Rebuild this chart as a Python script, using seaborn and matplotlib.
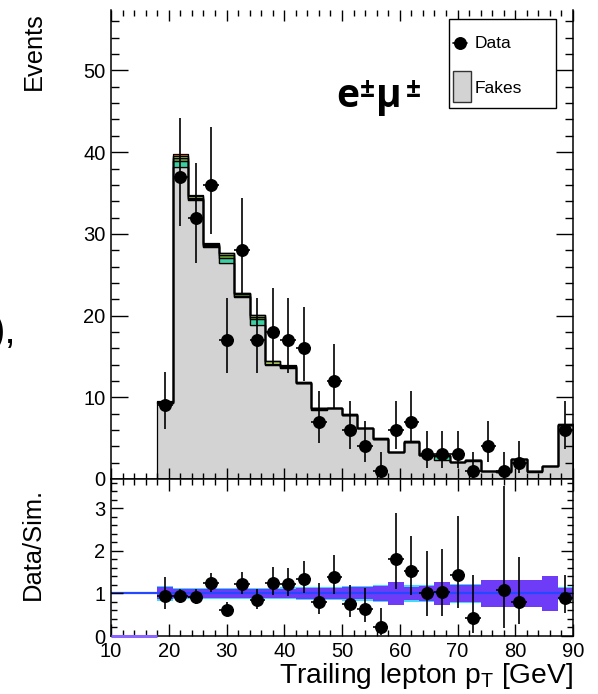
import numpy as np
import pandas as pd
import matplotlib
matplotlib.use("Agg")
import matplotlib.pyplot as plt
import seaborn as sns
from matplotlib.patches import Rectangle
from matplotlib.lines import Line2D
from matplotlib.ticker import MultipleLocator

# ---- binning (GeV) ----
bin_edges = np.linspace(18.0, 90.0, 28)

# ---- observed events per bin ----
data_events = [9, 37, 32, 36, 17, 28, 17, 18, 17, 16, 7, 12, 6, 4, 1,
               6, 7, 3, 3, 3, 1, 4, 1, 2, 0, 0, 6]

# ---- expected yields per bin, per process ----
fakes = [9.3, 38.2, 34.1, 28.4, 26.4, 22.3, 18.9, 14.0, 13.6, 11.7, 8.45, 8.65, 7.8, 6.2,
         4.9, 3.25, 4.55, 2.9, 2.3, 2.05, 2.25, 0.95, 0.9, 2.45, 0.9, 1.55, 6.6]
wz = [0.05, 0.7, 0.15, 0.15, 0.7, 0.15, 0.68, 0.05, 0.1, 0.05, 0.1, 0.02, 0.05, 0.03,
      0.03, 0.02, 0.02, 0.02, 0.55, 0.02, 0.02, 0.02, 0.01, 0.02, 0.02, 0.02, 0.04]
zz = [0.05, 0.35, 0.2, 0.15, 0.3, 0.15, 0.25, 0.05, 0.1, 0.05, 0.08, 0.01, 0.04, 0.03,
      0.02, 0.01, 0.01, 0.01, 0.02, 0.01, 0.01, 0.01, 0.01, 0.01, 0.01, 0.01, 0.02]
wgamma = [0.05, 0.25, 0.2, 0.1, 0.25, 0.15, 0.2, 0.3, 0.05, 0.05, 0.06, 0.01, 0.03, 0.02,
          0.02, 0.01, 0.01, 0.01, 0.02, 0.01, 0.01, 0.01, 0.005, 0.01, 0.01, 0.01, 0.02]
ttv = [0.05, 0.25, 0.05, 0.05, 0.05, 0.05, 0.05, 0.05, 0.05, 0.05, 0.03, 0.01, 0.03, 0.02,
       0.01, 0.01, 0.01, 0.01, 0.01, 0.01, 0.01, 0.01, 0.005, 0.01, 0.01, 0.01, 0.02]

# ---- relative uncertainty of the expectation (ratio-panel bands) ----
unc_total = [0.14, 0.10, 0.10, 0.10, 0.10, 0.10, 0.10, 0.10, 0.11, 0.12, 0.12, 0.12, 0.14, 0.14,
             0.17, 0.26, 0.16, 0.17, 0.28, 0.19, 0.19, 0.31, 0.31, 0.31, 0.31, 0.42, 0.13]
unc_stat = [0.17, 0.125, 0.125, 0.125, 0.125, 0.125, 0.125, 0.125, 0.14, 0.15, 0.15, 0.15, 0.17, 0.17,
            0.19, 0.26, 0.19, 0.20, 0.28, 0.22, 0.22, 0.31, 0.31, 0.31, 0.31, 0.42, 0.16]

process_names = ["Fakes", "WZ", "ZZ", "Wgamma", "ttV"]
process_colors = {"Fakes": "#d3d3d3", "WZ": "#3ccfa2", "ZZ": "#6b9e3a",
                  "Wgamma": "#b8d96a", "ttV": "#e8602c"}
stack_top_first = ["ttV", "Wgamma", "ZZ", "WZ", "Fakes"]

sns.set_theme(style="ticks")
plt.rcParams["font.family"] = ["Liberation Sans", "DejaVu Sans"]
plt.rcParams["mathtext.fontset"] = "custom"
plt.rcParams["mathtext.rm"] = "Liberation Sans"
plt.rcParams["axes.axisbelow"] = False
for key in ("text.color", "axes.labelcolor", "xtick.color", "ytick.color",
            "xtick.labelcolor", "ytick.labelcolor", "axes.edgecolor"):
    plt.rcParams[key] = "black"

W, H = 598, 694
fig = plt.figure(figsize=(W / 100, H / 100), dpi=100)


def fx(x):
    return x / W


def fy(y):
    return 1 - y / H


ax = fig.add_axes([fx(111), fy(479), (573 - 111) / W, (479 - 10) / H])
rax = fig.add_axes([fx(111), fy(636), (573 - 111) / W, (636 - 479) / H])

centers = 0.5 * (bin_edges[:-1] + bin_edges[1:])
half_w = 0.5 * np.diff(bin_edges)
yields = {"Fakes": fakes, "WZ": wz, "ZZ": zz, "Wgamma": wgamma, "ttV": ttv}
long = pd.DataFrame({
    "pt": np.tile(centers, len(process_names)),
    "events": np.concatenate([yields[p] for p in process_names]),
    "process": np.repeat(process_names, len(centers)),
})

sns.histplot(data=long, x="pt", weights="events", hue="process",
             hue_order=stack_top_first, palette=process_colors,
             multiple="stack", bins=list(bin_edges), element="step",
             edgecolor="black", linewidth=0.9, alpha=1, legend=False, ax=ax)

total = np.sum([np.asarray(yields[p]) for p in process_names], axis=0)
n = np.asarray(data_events, dtype=float)

# Garwood-like Poisson intervals (Wilson-Hilferty form)
with np.errstate(divide="ignore", invalid="ignore"):
    lo = np.where(n > 0, n * (1 - 1 / (9 * n) - 1 / (3 * np.sqrt(n))) ** 3, 0.0)
hi = (n + 1) * (1 - 1 / (9 * (n + 1)) + 1 / (3 * np.sqrt(n + 1))) ** 3
err_lo = n - lo
err_hi = hi - n

has = n > 0
marker_kw = dict(fmt="o", ms=8.3, mfc="black", mec="black", ecolor="black",
                 elinewidth=1.2, capsize=0, zorder=5)
ax.errorbar(centers[has], n[has], yerr=[err_lo[has], err_hi[has]],
            xerr=half_w[has], **marker_kw)

# ---- ratio panel ----
ratio_top = 3.69
rax.stairs(1 + np.asarray(unc_stat), bin_edges, baseline=1 - np.asarray(unc_stat),
           fill=True, color="#3fdcff", zorder=1)
rax.stairs(1 + np.asarray(unc_total), bin_edges, baseline=1 - np.asarray(unc_total),
           fill=True, color="#6e3cf6", zorder=1.2)
rax.axhline(1.0, color="#2448ff", lw=1.6, zorder=2)
rax.hlines(0.0, 10, bin_edges[0], color="#8a66ff", lw=2.2, zorder=3, clip_on=False)

ratio = n / total
show = has & (ratio <= ratio_top)
rax.errorbar(centers[show], ratio[show],
             yerr=[err_lo[show] / total[show], err_hi[show] / total[show]],
             xerr=half_w[show], **marker_kw)

# ---- axes cosmetics ----
ax.set_xlim(10, 90)
rax.set_xlim(10, 90)
ax.set_ylim(0, 57.4)
rax.set_ylim(0, ratio_top)

for a in (ax, rax):
    a.xaxis.set_major_locator(MultipleLocator(10))
    a.xaxis.set_minor_locator(MultipleLocator(2))
    a.tick_params(which="both", direction="in", top=True, right=True,
                  width=1.0, color="black", labelcolor="black", labelsize=14.5, pad=4)
    for s in a.spines.values():
        s.set_linewidth(1.1)
        s.set_color("black")
ax.yaxis.set_major_locator(MultipleLocator(10))
ax.yaxis.set_minor_locator(MultipleLocator(2))
rax.yaxis.set_major_locator(MultipleLocator(1))
rax.yaxis.set_minor_locator(MultipleLocator(0.2))
ax.tick_params(axis="y", which="major", length=12.2)
ax.tick_params(axis="y", which="minor", length=5.8)
ax.tick_params(axis="x", which="major", length=8)
ax.tick_params(axis="x", which="minor", length=4)
ax.tick_params(axis="x", labelbottom=False)
rax.tick_params(axis="both", which="major", length=8.6)
rax.tick_params(axis="both", which="minor", length=4.3)
ax.spines["top"].set_visible(False)

ax.set_xlabel("")
ax.set_ylabel("Events", fontsize=18.4, loc="top", color="black")
ax.yaxis.set_label_coords((34 - 111) / 462, (479 - 12) / 469)
ax.yaxis.label.set(rotation_mode="default", ha="center", va="top")

rax.set_ylabel("Data/Sim.", fontsize=18.4, color="black")
rax.yaxis.set_label_coords((33 - 111) / 462, (636 - 488) / 157)
rax.yaxis.label.set(rotation_mode="default", ha="center", va="top")

rax.set_xlabel(r"Trailing lepton p$_{\rm T}$ [GeV]", fontsize=20.3, loc="right", color="black")
rax.xaxis.set_label_coords(1.0, (636 - 683) / 157)
rax.xaxis.label.set(ha="right", va="baseline")

# ---- channel label ----
chan_kw = dict(family="Open Sans", weight="bold", color="black", va="baseline")
fig.text(fx(336), fy(107), "e", fontsize=28, **chan_kw)
fig.text(fx(359.5), fy(97), "±", fontsize=19, **chan_kw)
fig.text(fx(376), fy(107), "μ", fontsize=28, **chan_kw)
fig.text(fx(406), fy(97), "±", fontsize=19, **chan_kw)

# ---- legend ----
fig.add_artist(Rectangle((fx(449), fy(108.3)), (555.7 - 449) / W, (108.3 - 19.3) / H,
                         transform=fig.transFigure, facecolor="white",
                         edgecolor="black", lw=1.0, zorder=6))
fig.add_artist(Line2D([fx(452.7), fx(467.3)], [fy(42.7), fy(42.7)], transform=fig.transFigure,
                      color="black", lw=1.2, zorder=7))
fig.add_artist(Line2D([fx(460)], [fy(42.7)], transform=fig.transFigure, marker="o",
                      ms=8.3, color="black", zorder=7))
fig.text(fx(475), fy(48.3), "Data", fontsize=12.5, va="baseline", zorder=7)
fig.add_artist(Rectangle((fx(453), fy(101.7)), 18 / W, 31 / H, transform=fig.transFigure,
                         facecolor=process_colors["Fakes"], edgecolor="#333333",
                         lw=1.0, zorder=7))
fig.text(fx(475), fy(93.3), "Fakes", fontsize=12.5, va="baseline", zorder=7)

# ---- text fragment at the left margin ----
fig.text(fx(-8), fy(343), "),", fontsize=29, va="baseline", ha="left")

fig.savefig("out.png", dpi=100)
